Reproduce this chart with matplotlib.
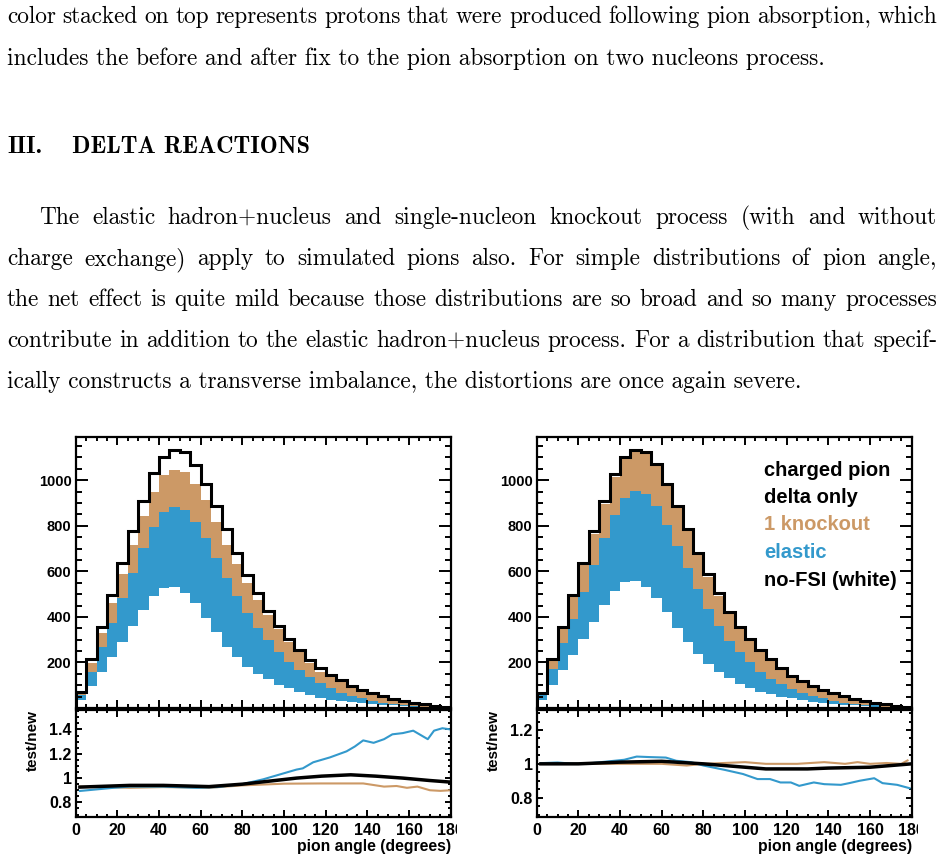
import numpy as np
import matplotlib
matplotlib.use("Agg")
import matplotlib.pyplot as plt
from matplotlib.ticker import MultipleLocator, FixedLocator
from matplotlib.transforms import Bbox, TransformedBbox

# ---- page text ----
top_lines = [
    "color stacked on top represents protons that were produced following pion absorption, which",
    "includes the before and after fix to the pion absorption on two nucleons process.",
]
heading_num = "III."
heading_title = "DELTA REACTIONS"
para_lines = [
    "The elastic hadron+nucleus and single-nucleon knockout process (with and without",
    "charge exchange) apply to simulated pions also.  For simple distributions of pion angle,",
    "the net effect is quite mild because those distributions are so broad and so many processes",
    "contribute in addition to the elastic hadron+nucleus process. For a distribution that specif-",
    "ically constructs a transverse imbalance, the distortions are once again severe.",
]

# ---- histogram data (5 degree bins, stacked heights as read) ----
edges = np.arange(0, 181, 5)

left_total = [71, 215, 356, 497, 636, 777, 910, 1031, 1101, 1134, 1123, 1068, 983, 889, 786, 680, 584, 503,
              424, 358, 302, 254, 210, 174, 144, 121, 97, 80, 65, 51, 40, 30, 23, 17, 9, 4]
left_knockout = [65, 197, 329, 459, 588, 716, 841, 947, 1023, 1047, 1035, 983, 913, 815, 716, 632, 551, 474,
                 409, 347, 292, 244, 196, 160, 138, 115, 94, 75, 61, 46, 36, 27, 20, 14, 8, 2]
left_elastic = [57, 160, 266, 372, 482, 591, 701, 793, 859, 884, 869, 815, 747, 659, 571, 493, 419, 351,
                298, 248, 203, 168, 134, 108, 86, 68, 53, 42, 31, 24, 18, 14, 9, 6, 3, 2]
left_nofsi = [36, 97, 160, 222, 290, 361, 430, 492, 525, 532, 507, 459, 395, 332, 270, 222, 182, 150,
              127, 102, 86, 71, 58, 46, 37, 31, 25, 21, 17, 14, 11, 9, 6, 5, 2, 1]

right_total = [68, 214, 354, 496, 637, 776, 909, 1028, 1101, 1134, 1124, 1072, 984, 886, 786, 680, 588, 503,
               423, 354, 302, 254, 214, 174, 141, 119, 97, 80, 65, 51, 39, 30, 23, 17, 9, 4]
right_knockout = [65, 207, 347, 486, 628, 764, 896, 1013, 1094, 1126, 1121, 1062, 976, 877, 776, 672, 576, 493,
                  412, 347, 295, 244, 207, 168, 137, 115, 93, 75, 61, 46, 36, 27, 20, 14, 8, 2]
right_elastic = [57, 171, 285, 393, 510, 628, 745, 849, 922, 954, 940, 888, 805, 712, 613, 522, 434, 358,
                 295, 244, 203, 159, 129, 105, 83, 68, 53, 42, 31, 24, 18, 14, 11, 6, 3, 2]
right_nofsi = [36, 100, 167, 232, 302, 379, 452, 515, 554, 558, 532, 482, 420, 351, 291, 237, 193, 156,
               131, 105, 90, 72, 61, 50, 42, 34, 27, 21, 17, 14, 11, 9, 6, 5, 2, 1]

# ---- ratio curves (test/new) ----
left_blue_x = [2, 10, 18, 26, 42, 58, 68, 80, 90, 100, 106, 109, 114, 122, 130, 134, 138, 143, 148, 152,
               157, 162, 165, 169, 172, 176, 180]
left_blue_y = [0.894, 0.907, 0.92, 0.93, 0.93, 0.92, 0.926, 0.95, 0.99, 1.04, 1.07, 1.08, 1.13, 1.17, 1.22,
               1.26, 1.31, 1.29, 1.32, 1.36, 1.37, 1.39, 1.36, 1.32, 1.39, 1.41, 1.40]
left_black_x = [2, 26, 42, 64, 80, 93, 106, 118, 132, 144, 157, 170, 180]
left_black_y = [0.926, 0.94, 0.94, 0.93, 0.95, 0.975, 1.0, 1.016, 1.027, 1.016, 1.0, 0.98, 0.967]
left_brown_x = [2, 26, 42, 64, 80, 100, 118, 138, 148, 154, 159, 164, 170, 175, 180]
left_brown_y = [0.93, 0.92, 0.926, 0.92, 0.94, 0.954, 0.956, 0.956, 0.93, 0.935, 0.92, 0.93, 0.90, 0.895, 0.90]

right_blue_x = [2, 10, 18, 26, 34, 42, 48, 54, 62, 67, 74, 80, 90, 99, 106, 112, 117, 122, 126, 133, 138,
                146, 150, 155, 162, 166, 173, 179]
right_blue_y = [1.004, 1.008, 1.0, 1.004, 1.014, 1.024, 1.043, 1.04, 1.037, 1.018, 1.01, 0.99, 0.965, 0.94,
                0.91, 0.91, 0.89, 0.89, 0.87, 0.89, 0.88, 0.876, 0.886, 0.90, 0.915, 0.886, 0.876, 0.856]
right_black_x = [2, 20, 40, 60, 80, 100, 110, 130, 140, 160, 170, 180]
right_black_y = [1.0, 1.0, 1.01, 1.015, 1.0, 0.98, 0.97, 0.97, 0.975, 0.98, 0.99, 1.0]
right_brown_x = [2, 20, 40, 60, 72, 80, 100, 110, 125, 138, 148, 154, 160, 168, 175, 178]
right_brown_y = [1.0, 1.0, 1.0, 1.0, 0.99, 1.0, 1.01, 1.0, 1.0, 1.01, 1.0, 1.01, 1.0, 1.005, 1.0, 1.02]

legend_lines = ["charged pion", "delta only", "1 knockout", "elastic", "no-FSI (white)"]

BROWN = "#cc9966"
BLUE = "#3399cc"
legend_colors = ["black", "black", BROWN, BLUE, "black"]

W, H = 944, 860
fig = plt.figure(figsize=(W / 100, H / 100), dpi=100)
rend = fig.canvas.get_renderer()
SANS = "Liberation Sans"


def fx(x):
    return x / W


def fy(y):
    return 1 - y / H


def width_of(s, size, family, weight="normal"):
    t = fig.text(0, 0, s, fontsize=size, family=family, weight=weight)
    w = t.get_window_extent(rend).width
    t.remove()
    return w


def justified(line, y, x0, x1, size, family="cmr10"):
    words = line.split()
    objs = [fig.text(0, fy(y), w, fontsize=size, family=family, va="baseline") for w in words]
    widths = [o.get_window_extent(rend).width for o in objs]
    gap = (x1 - x0 - sum(widths)) / (len(words) - 1)
    x = x0
    for o, w in zip(objs, widths):
        o.set_x(fx(x))
        x += w + gap


# body size fitted to the unjustified second line
body = 10 * (828 - 7) / width_of(top_lines[1], 10, "cmr10")
head = 10 * (308 - 72) / width_of(heading_title, 10, "cmb10")

justified(top_lines[0], 23, 7, 937, body)
fig.text(fx(7), fy(65), top_lines[1], fontsize=body, family="cmr10", va="baseline")
fig.text(fx(7), fy(153), heading_num, fontsize=head, family="cmb10", va="baseline")
fig.text(fx(72), fy(153), heading_title, fontsize=head, family="cmb10", va="baseline")

para_y = [224, 265, 306, 347, 388]
justified(para_lines[0], para_y[0], 39, 937, body)
for line, y in zip(para_lines[1:4], para_y[1:4]):
    justified(line, y, 7, 937, body)
fig.text(fx(7), fy(para_y[4]), para_lines[4], fontsize=body, family="cmr10", va="baseline")


def frame(ax, xlen, ylen):
    for s in ax.spines.values():
        s.set_linewidth(1.6)
    ax.tick_params(which="both", direction="in", top=True, right=True, width=1.4, labelsize=11)
    ax.tick_params(axis="x", which="major", length=xlen)
    ax.tick_params(axis="x", which="minor", length=xlen / 2)
    ax.tick_params(axis="y", which="major", length=ylen)
    ax.tick_params(axis="y", which="minor", length=ylen / 2)
    ax.set_xlim(0, 180)
    ax.xaxis.set_major_locator(MultipleLocator(20))
    ax.xaxis.set_minor_locator(MultipleLocator(5))
    for lab in ax.get_xticklabels() + ax.get_yticklabels():
        lab.set_fontweight("bold")
        lab.set_family(SANS)


def panel(x0, total, knock, elas, nofsi, rlim, rticks, rlabels, curves):
    up = fig.add_axes([fx(x0), fy(708), fx(375), (708 - 437) / H])
    up.stairs(knock, edges, fill=True, color=BROWN)
    up.stairs(elas, edges, fill=True, color=BLUE)
    up.stairs(nofsi, edges, fill=True, color="white")
    up.stairs(total, edges, color="black", lw=2.2, baseline=0)
    up.set_ylim(0, 1190)
    up.yaxis.set_major_locator(FixedLocator([200, 400, 600, 800, 1000]))
    up.yaxis.set_minor_locator(MultipleLocator(50))
    frame(up, 5.8, 8.6)
    up.tick_params(labelbottom=False, labelsize=10.5, pad=3)
    for lab in up.get_yticklabels():
        lab.set_fontweight("bold")
        lab.set_family(SANS)

    lo = fig.add_axes([fx(x0), fy(817), fx(375), (817 - 710) / H])
    for xs, ys, c, lw in curves:
        lo.plot(xs, ys, color=c, lw=lw)
    lo.set_ylim(*rlim)
    lo.set_yticks(rticks)
    lo.set_yticklabels(rlabels)
    lo.yaxis.set_minor_locator(MultipleLocator(0.05))
    frame(lo, 5.0, 4.5)
    lo.tick_params(labelsize=11.5, pad=3)
    lo.tick_params(axis="x", pad=4)
    for lab in lo.get_xticklabels() + lo.get_yticklabels():
        lab.set_fontweight("bold")
        lab.set_family(SANS)
    # ROOT cuts the last x label at the pad edge
    clip = TransformedBbox(Bbox([[0, 0], [fx(x0 + 375 + 6), 1]]), fig.transFigure)
    for t in lo.xaxis.get_major_ticks():
        t.label1.set_clip_box(clip)
        t.label1.set_clip_on(True)

    fig.text(fx(x0 + 375), fy(846), "pion angle (degrees)", ha="right", va="center",
             fontsize=11.3, weight="bold", family=SANS)
    fig.text(fx(x0 - 43), fy(710), "test/new", rotation=90, ha="center", va="top",
             fontsize=11, weight="bold", family=SANS)
    return up, lo


panel(75.7, left_total, left_knockout, left_elastic, left_nofsi, (0.68, 1.56),
      [0.8, 1.0, 1.2, 1.4], ["0.8", "1", "1.2", "1.4"],
      [(left_brown_x, left_brown_y, BROWN, 1.5), (left_blue_x, left_blue_y, BLUE, 1.5),
       (left_black_x, left_black_y, "black", 2.5)])

panel(536.7, right_total, right_knockout, right_elastic, right_nofsi, (0.686, 1.318),
      [0.8, 1.0, 1.2], ["0.8", "1", "1.2"],
      [(right_brown_x, right_brown_y, BROWN, 1.5), (right_blue_x, right_blue_y, BLUE, 1.5),
       (right_black_x, right_black_y, "black", 2.5)])

for i, (s, c) in enumerate(zip(legend_lines, legend_colors)):
    fig.text(fx(764), fy(470 + 27.5 * i), s, color=c, fontsize=14.5, weight="bold",
             family=SANS, va="center")

fig.savefig("out.png", dpi=100)
